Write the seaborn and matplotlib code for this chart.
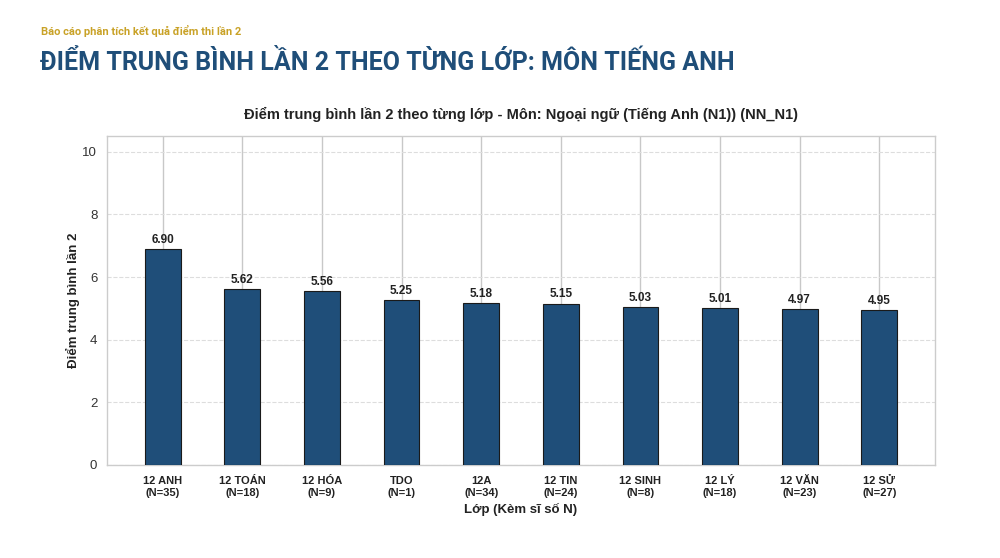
import matplotlib
matplotlib.use("Agg")
import matplotlib.pyplot as plt
import seaborn as sns
import pandas as pd

classes = ["12 ANH", "12 TOÁN", "12 HÓA", "TDO", "12A", "12 TIN", "12 SINH", "12 LÝ", "12 VĂN", "12 SỬ"]
counts = [35, 18, 9, 1, 34, 24, 8, 18, 23, 27]
scores = [6.90, 5.62, 5.56, 5.25, 5.18, 5.15, 5.03, 5.01, 4.97, 4.95]
yticks = [0, 2, 4, 6, 8, 10]

labels = [f"{c}\n(N={n})" for c, n in zip(classes, counts)]
df = pd.DataFrame({"label": labels, "score": scores})

sns.set_theme(style="whitegrid")
plt.rcParams['font.family'] = ['Liberation Sans', 'DejaVu Sans']

fig = plt.figure(figsize=(10, 5.58), dpi=100)
ax = fig.add_axes([0.107, 0.167, 0.828, 0.589])

sns.barplot(data=df, x="label", y="score", color="#1f4e79", width=0.45, saturation=1,
            edgecolor="#1a1a1a", linewidth=0.8, ax=ax, zorder=3)

for i, v in enumerate(scores):
    ax.text(i, v + 0.1, f"{v:.2f}", ha="center", va="bottom", fontsize=8.5,
            fontweight="bold", color="#222222", zorder=4)

ax.set_ylim(0, 10.5)
ax.set_xlim(-0.7, 9.7)
ax.set_yticks(yticks)
ax.yaxis.grid(True, linestyle="--", color="#dddddd", linewidth=0.8)
ax.xaxis.grid(True, linestyle="-", color="#c8c8c8", linewidth=1.0)
ax.set_axisbelow(True)
for s in ax.spines.values():
    s.set_color("#cccccc")
    s.set_linewidth(1.0)

ax.tick_params(axis="x", labelsize=8, pad=8, length=0)
ax.tick_params(axis="y", labelsize=9.5, length=0, pad=7, labelcolor="#333333")
for t in ax.get_xticklabels():
    t.set_fontweight("bold")
    t.set_color("#222222")

ax.set_xlabel("Lớp (Kèm sĩ số N)", fontsize=9.5, fontweight="bold", color="#222222", labelpad=4)
ax.set_ylabel("Điểm trung bình lần 2", fontsize=9.5, fontweight="bold", color="#222222", labelpad=4)
ax.set_title("Điểm trung bình lần 2 theo từng lớp - Môn: Ngoại ngữ (Tiếng Anh (N1)) (NN_N1)",
             fontsize=10.5, fontweight="bold", color="#222222", pad=12)
ax.yaxis.set_label_coords(-0.033, 0.5)

fig.text(0.041, 0.944, "Báo cáo phân tích kết quả điểm thi lần 2", fontsize=8,
         fontweight="bold", color="#c9a227", ha="left", va="center", family=["Roboto", "DejaVu Sans"])
fig.text(0.040, 0.888, "ĐIỂM TRUNG BÌNH LẦN 2 THEO TỪNG LỚP: MÔN TIẾNG ANH", fontsize=18,
         fontweight="bold", color="#1f4e79", ha="left", va="center", family=["Roboto", "DejaVu Sans"])

fig.savefig("out.png", dpi=100, facecolor="white")
